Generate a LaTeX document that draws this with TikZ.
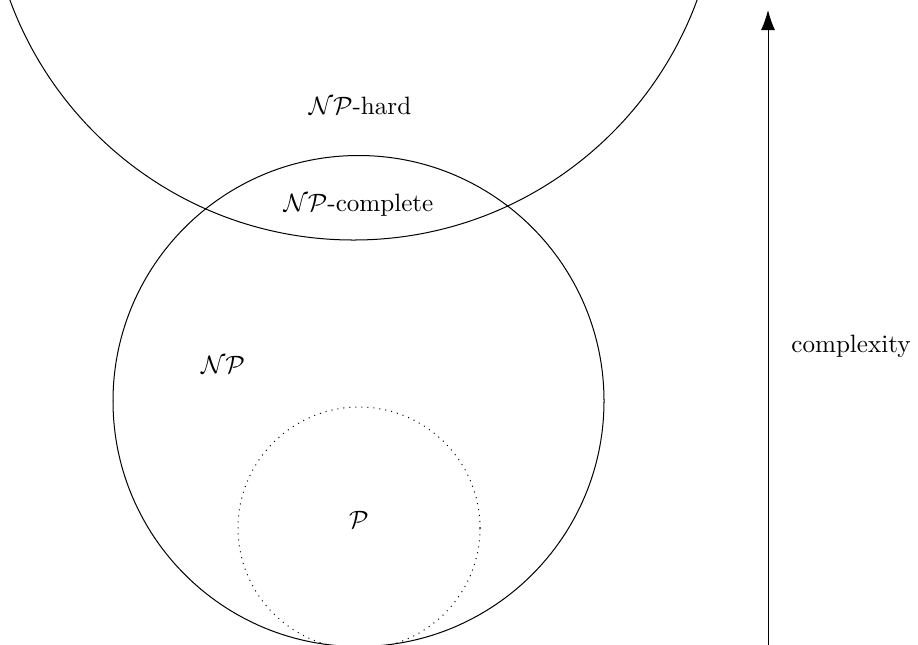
\documentclass[tikz,border=0pt]{standalone}
\usetikzlibrary{arrows.meta}
\begin{document}
\begin{tikzpicture}[x=0.3984pt,y=-0.3984pt,
  setline/.style={draw=black,line width=0.4pt},
  lbl/.style={anchor=base,inner sep=0pt}]
\useasboundingbox (0,0) rectangle (918,644);
\clip (0,0) rectangle (918,644);
\node[setline,circle,minimum size={2*245.5*0.3984pt},inner sep=0pt] (np) at (358.5,401) {};
\node[setline,dotted,circle,minimum size={2*121*0.3984pt},inner sep=0pt] (p) at (359,528) {};
\node[setline,circle,minimum size={2*365.8*0.3984pt},inner sep=0pt] (nph) at (353.5,-125.8) {};
\coordinate (abot) at (768,650);
\coordinate (atop) at (768,10);
\draw[line width=0.4pt,-{Latex[length=8pt,width=5.6pt]}] (abot) -- (atop);
\node[lbl] (lhard) at (360,114) {$\mathcal{NP}$-hard};
\node[lbl] (lcomp) at (358.5,211) {$\mathcal{NP}$-complete};
\node[lbl] (lnp) at (223,373) {$\mathcal{NP}$};
\node[lbl] (lp) at (359,528) {$\mathcal{P}$};
\node[lbl] (lcx) at (851,352) {complexity};
\end{tikzpicture}
\end{document}
